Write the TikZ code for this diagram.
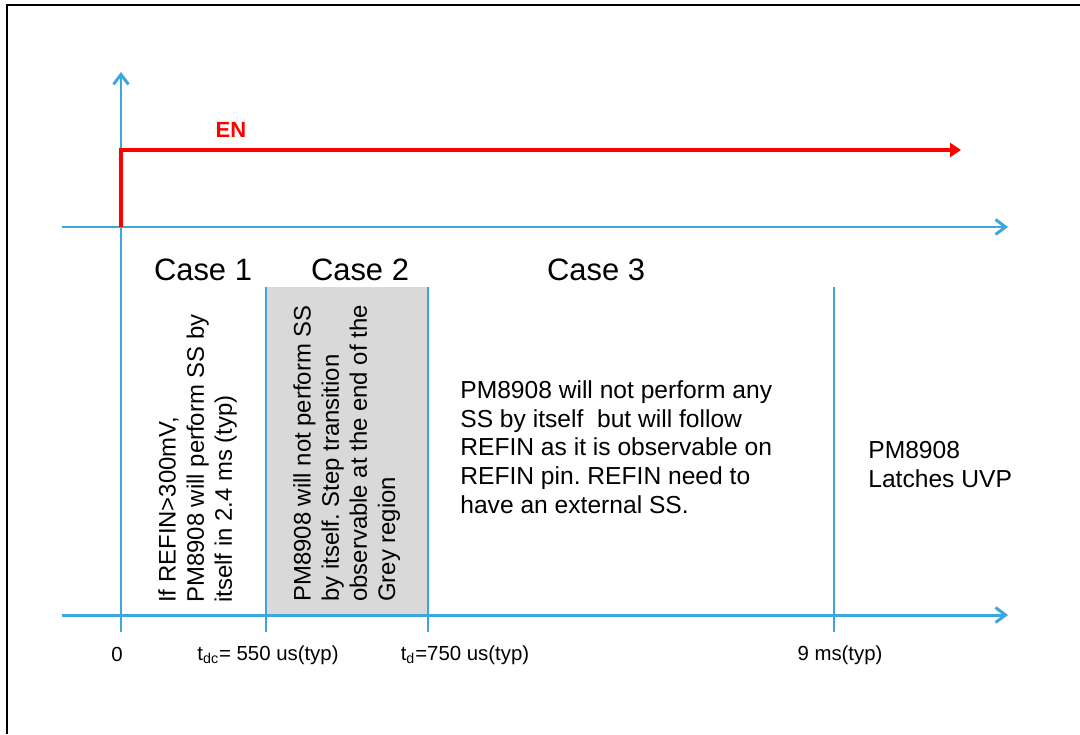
\documentclass[tikz,border=0pt]{standalone}
\usepackage{fontspec}
\setmainfont{Liberation Sans}
\usetikzlibrary{arrows.meta}
\frenchspacing

\definecolor{axisblue}{RGB}{59,167,221}
\definecolor{greyregion}{RGB}{217,217,217}

\tikzset{
  axis/.style={draw=axisblue, line width=1.7pt, -{Straight Barb[length=0.2cm,width=0.3cm,line width=1.7pt]}},
  divider/.style={draw=axisblue, line width=1.3pt},
  enline/.style={draw=red, line width=2.2pt, -{Triangle[length=0.22cm,width=0.28cm]}},
  casetitle/.style={font=\fontsize{17.6}{21}\selectfont, inner sep=0pt},
  note/.style={font=\fontsize{14}{16.4}\selectfont, align=left, inner sep=0pt},
  sidenote/.style={font=\fontsize{13.6}{16}\selectfont, align=left, inner sep=0pt, rotate=90, anchor=north west},
  ticklabel/.style={font=\fontsize{11.6}{14}\selectfont, inner sep=0pt}
}

\begin{document}
\begin{tikzpicture}

          \useasboundingbox (-2.42,-2.38) rectangle (19.18,12.3);
          \draw[line width=1.1pt] (-2.28,-2.38) -- (-2.28,12.2) -- (19.18,12.2);

          \fill[greyregion] (2.9,0) rectangle (6.14,6.56);

          \coordinate (vbot) at (0,-0.34);
          \coordinate (vtop) at (0,10.86);
          \coordinate (hl) at (-1.18,0);
          \coordinate (hr) at (17.74,0);
          \coordinate (ul) at (-1.18,7.76);
          \coordinate (ur) at (17.74,7.76);

          \draw[axis] (vbot) -- (vtop);
          \draw[axis] (hl) -- (hr);
          \draw[axis] (ul) -- (ur);

          \foreach \x [count=\i] in {2.9,6.14,14.26}{
            \coordinate (d\i top) at (\x,6.56);
            \coordinate (d\i bot) at (\x,-0.34);
            \draw[divider] (d\i bot) -- (d\i top);
          }

          \coordinate (enstart) at (0,7.76);
          \coordinate (enrise) at (0,9.3);
          \coordinate (enend) at (16.8,9.3);
          \draw[enline] (enstart) -- (enrise) -- (enend);
          \node[text=red, font=\bfseries\fontsize{12.5}{15}\selectfont] (en) at (2.2,9.7) {EN};

          \node[casetitle] (case1) at (1.64,6.9) {Case 1};
          \node[casetitle] (case2) at (4.78,6.9) {Case 2};
          \node[casetitle] (case3) at (9.5,6.9) {Case 3};

          \node[sidenote] (note1) at (0.74,0.24)
            {If REFIN>300mV,\\PM8908 will perform SS by\\itself in 2.4 ms (typ)};
          \node[sidenote] (note2) at (3.44,0.26)
            {PM8908 will not perform SS\\by itself. Step transition\\observable at the end of the\\Grey region};
          \node[note, anchor=north west] (note3) at (6.78,4.7)
            {PM8908 will not perform any\\SS by itself\ \ but will follow\\REFIN as it is observable on\\REFIN pin. REFIN need to\\have an external SS.};
          \node[note, anchor=north west] (note4) at (14.94,3.48)
            {PM8908\\Latches UVP};

          \node[ticklabel] (t0) at (-0.08,-0.78) {0};
          \node[ticklabel] (tdc) at (2.94,-0.8) {t\textsubscript{dc}= 550 us(typ)};
          \node[ticklabel] (td) at (6.88,-0.8) {t\textsubscript{d}=750 us(typ)};
          \node[ticklabel] (t9) at (14.38,-0.8) {9 ms(typ)};

        \end{tikzpicture}
\end{document}
